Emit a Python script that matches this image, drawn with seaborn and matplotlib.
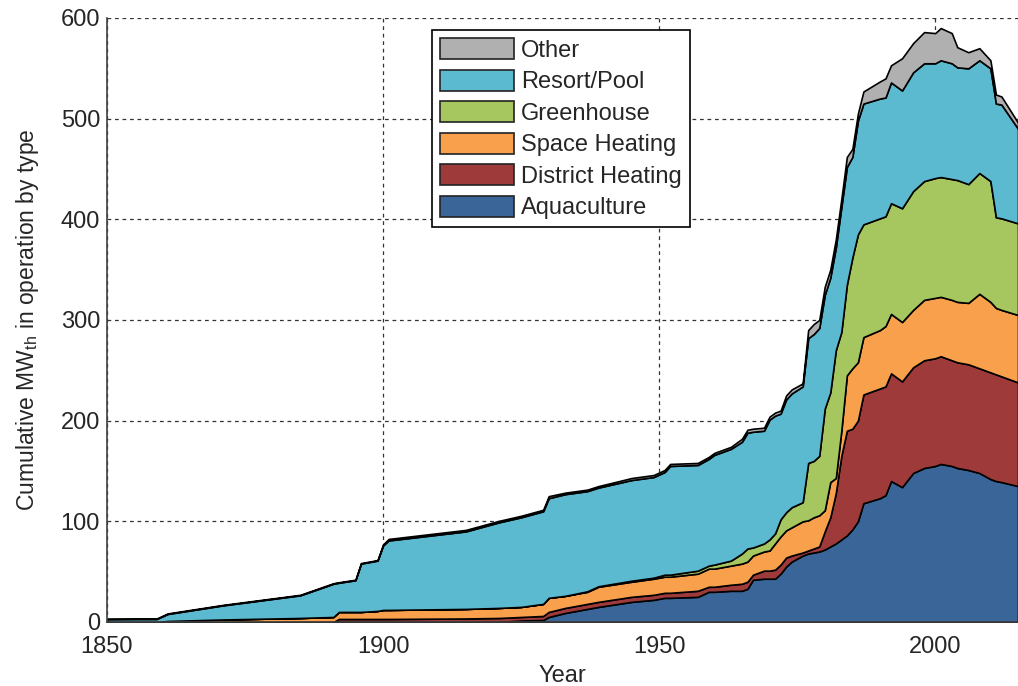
import matplotlib
matplotlib.use("Agg")
import matplotlib.pyplot as plt
import matplotlib.patches as mpatches
import seaborn as sns
import numpy as np

# ─── Data (MWth per use type) ─────────────────────────────────────────────

YEARS = [1850, 1859, 1861, 1871, 1885, 1891, 1892, 1895, 1896, 1899,
         1900, 1901, 1915, 1921, 1925, 1929, 1930, 1933, 1937, 1939,
         1945, 1949, 1951, 1952, 1957, 1959, 1960, 1963, 1965, 1966,
         1967, 1969, 1970, 1971, 1972, 1973, 1974, 1976, 1977, 1978,
         1979, 1980, 1981, 1982, 1983, 1984, 1985, 1986, 1987, 1990,
         1991, 1992, 1994, 1996, 1998, 2000, 2001, 2003, 2004, 2006,
         2008, 2010, 2011, 2012, 2015]

AQUACULTURE = [0, 0, 0, 0, 0, 0, 0, 0, 0, 0,
               0, 0, 0, 0, 1.5, 2, 5, 9, 13, 15,
               20, 22, 24, 24, 25, 30, 30, 31, 31, 33,
               42, 43, 43, 43, 48, 55, 60, 66, 68, 69,
               70, 72, 75, 78, 82, 86, 92, 100, 118, 123,
               126, 140, 134, 148, 153, 155, 157, 155, 153, 151,
               148, 142, 140, 139, 135]

DISTRICT = [0, 0, 0, 0, 0, 0, 3, 3, 3, 3,
            3, 3, 3.5, 4, 3.5, 4, 5, 5, 5, 5,
            5, 5, 5, 5, 6, 5, 5, 6, 7, 7,
            5, 8, 8, 9, 9, 9, 6, 3, 3, 4,
            5, 18, 29, 50, 83, 104, 100, 100, 108, 109,
            108, 107, 105, 105, 107, 107, 107, 105, 105, 105,
            104, 106, 106, 105, 103]

SPACE = [0, 0, 1, 2.5, 4, 5, 7, 7, 7, 8,
         9, 9, 9.5, 10, 10, 12, 14, 12, 12, 15,
         15, 16, 16, 16, 17, 18, 18, 19, 20, 20,
         19, 19, 20, 26, 28, 27, 28, 31, 30, 31,
         31, 21, 35, 15, 25, 55, 60, 58, 57, 58,
         60, 59, 59, 57, 60, 60, 59, 60, 60, 61,
         74, 70, 66, 66, 67]

GREENHOUSE = [0, 0, 0, 0, 0, 0, 0, 0, 0, 0,
              0, 0, 0, 0, 0, 0, 0, 0, 0.5, 0.5,
              1, 1, 2, 2, 3, 3, 4, 5, 10, 13,
              8, 8, 11, 10, 17, 18, 20, 19, 57, 56,
              59, 101, 89, 127, 98, 90, 110, 127, 112, 111,
              109, 110, 113, 118, 118, 119, 119, 120, 121, 118,
              120, 120, 90, 91, 91]

RESORT = [3, 3, 7, 14, 22.5, 33, 29, 31.5, 48, 50,
          64, 69, 77, 85, 89, 92, 99, 101, 99.5, 98,
          100, 100, 102, 108, 105, 106, 109, 111, 111, 115,
          115, 112, 119, 117, 105, 112, 113, 115, 124, 126,
          127, 113, 114, 102, 124, 117, 100, 113, 120, 119,
          118, 120, 117, 118, 117, 114, 116, 115, 112, 115,
          112, 112, 113, 113, 94]

OTHER = [0, 0.5, 0.5, 0.5, 0.5, 0.5, 0.5, 0.5, 0.5, 0.5,
         1, 1.5, 1.5, 1.5, 1.5, 1.5, 2, 1.5, 1.5, 1.5,
         2, 2, 2, 2, 2, 2, 2, 2, 3, 3,
         3, 3, 3, 3, 3, 4, 4, 3, 8, 10,
         8, 8, 8, 8, 8, 10, 8, 7, 12, 17,
         19, 17, 32, 29, 31, 30, 32, 30, 20, 16,
         12, 8, 9, 8, 6]

LABELS = ['Aquaculture', 'District Heating', 'Space Heating',
          'Greenhouse', 'Resort/Pool', 'Other']
COLORS = ['#3A6598', '#9E3B3A', '#F9A04C', '#A6C760', '#5BBAD0', '#B0B0B0']

# ─── Style ────────────────────────────────────────────────────────────────

sns.set_style('white')
plt.rcParams.update({
    'font.family': ['Liberation Sans', 'DejaVu Sans'],
    'mathtext.fontset': 'custom',
    'mathtext.rm': 'Liberation Sans',
    'mathtext.it': 'Liberation Sans',
    'font.size': 17,
    'xtick.labelsize': 17,
    'ytick.labelsize': 17,
    'axes.labelsize': 17,
    'legend.fontsize': 17,
    'text.color': '#262626',
    'xtick.color': '#262626',
    'ytick.color': '#262626',
})

fig = plt.figure(figsize=(10.18, 6.86), dpi=100)
ax = fig.add_axes([107 / 1018, 64 / 686, 911 / 1018, 604 / 686])

ax.stackplot(YEARS, AQUACULTURE, DISTRICT, SPACE, GREENHOUSE, RESORT, OTHER,
             colors=COLORS, edgecolor='black', linewidth=1.2, zorder=2)

ax.set_xlim(1850, 2015)
ax.set_ylim(0, 600)
ax.set_xticks([1850, 1900, 1950, 2000])
ax.set_yticks(np.arange(0, 601, 100))
ax.grid(True, linestyle=(0, (3, 3)), color='#333333', linewidth=0.9, zorder=0)
ax.set_axisbelow(True)

for side in ['top', 'right']:
    ax.spines[side].set_visible(False)
for side in ['left', 'bottom']:
    ax.spines[side].set_color('#404040')
    ax.spines[side].set_linewidth(1.2)
ax.tick_params(direction='in', length=5, width=1)
ax.tick_params(axis='y', pad=5)
ax.tick_params(axis='x', pad=10)

ax.set_xlabel('Year', labelpad=5)
ax.set_ylabel('Cumulative MW$_{\\mathrm{th}}$ in operation by type', fontsize=16.5, labelpad=14)

handles = [mpatches.Patch(facecolor=c, edgecolor='#222222', linewidth=1.2, label=l)
           for c, l in zip(COLORS, LABELS)][::-1]
leg = ax.legend(handles=handles, loc='upper left', bbox_to_anchor=(0.357, 0.98),
                fancybox=False, framealpha=1, edgecolor='black',
                handlelength=3.1, handleheight=1.0, labelspacing=0.33,
                handletextpad=0.3, borderpad=0.35, borderaxespad=0)
leg.get_frame().set_linewidth(1.2)

fig.savefig('out.png', dpi=100)
plt.close()
